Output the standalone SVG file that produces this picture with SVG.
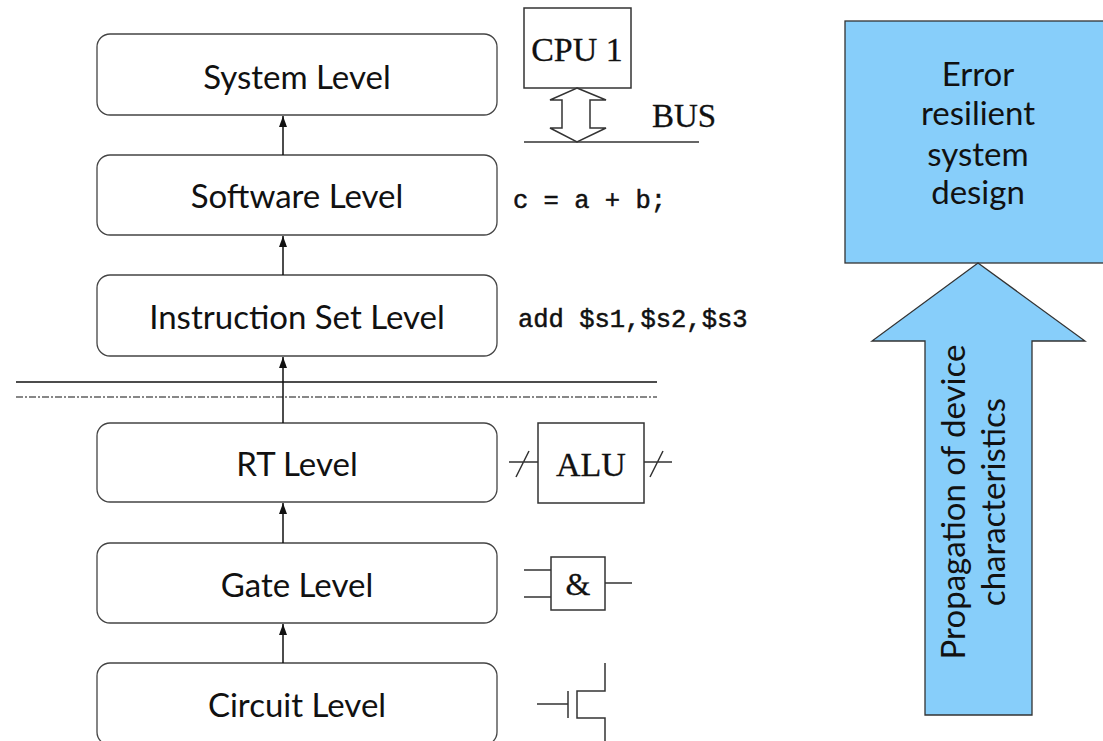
<svg xmlns="http://www.w3.org/2000/svg" width="1103" height="741" viewBox="0 0 1103 741">
<style>
.node rect{fill:#fff;stroke:#444;stroke-width:1.3}
.lbl{font-family:Lato,"Liberation Sans",sans-serif;font-size:33px;fill:#111;text-anchor:middle}
.serif{font-family:"Liberation Serif","Times New Roman",serif;fill:#111;stroke:#111;stroke-width:0.3}
.mono{font-family:"Liberation Mono","Courier New",monospace;font-size:25.5px;fill:#111;stroke:#111;stroke-width:0.5}
.conn line{stroke:#111;stroke-width:1.5;marker-end:url(#ah)}
.sym{fill:none;stroke:#333;stroke-width:1.5}
.box{fill:#fff;stroke:#333;stroke-width:1.5}
.blue{fill:#87cefa;stroke:#333;stroke-width:1.3}
</style>
<defs>
<marker id="ah" viewBox="0 0 11 8" refX="11" refY="4" markerWidth="11" markerHeight="8" orient="auto" markerUnits="userSpaceOnUse">
<path d="M0,0 L11,4 L0,8 z" fill="#111"/>
</marker>
</defs>
<rect width="1103" height="741" fill="#fff"/>

<g id="system-level" class="node"><rect x="97" y="34" width="400" height="81" rx="13"/><text class="lbl" x="297" y="89">System Level</text></g>
<g id="software-level" class="node"><rect x="97" y="155" width="400" height="80" rx="13"/><text class="lbl" x="297" y="208">Software Level</text></g>
<g id="isa-level" class="node"><rect x="97" y="275" width="400" height="81" rx="13"/><text class="lbl" x="297" y="329">Instruction Set Level</text></g>
<g id="rt-level" class="node"><rect x="97" y="423" width="400" height="79" rx="13"/><text class="lbl" x="297" y="476">RT Level</text></g>
<g id="gate-level" class="node"><rect x="97" y="543" width="400" height="80" rx="13"/><text class="lbl" x="297" y="597">Gate Level</text></g>
<g id="circuit-level" class="node"><rect x="97" y="663" width="400" height="82" rx="13"/><text class="lbl" x="297" y="717">Circuit Level</text></g>

<g id="connectors" class="conn">
<line x1="283" y1="155" x2="283" y2="116"/>
<line x1="283" y1="275" x2="283" y2="236"/>
<line x1="283" y1="423" x2="283" y2="357"/>
<line x1="283" y1="543" x2="283" y2="503"/>
<line x1="283" y1="663" x2="283" y2="624"/>
</g>

<g id="separator">
<line x1="16" y1="382" x2="657" y2="382" stroke="#111" stroke-width="1.3"/>
<line x1="16" y1="397" x2="657" y2="397" stroke="#111" stroke-width="1.2" stroke-dasharray="7 2 2 2"/>
</g>

<g id="cpu">
<rect class="box" x="524" y="8" width="107" height="80"/>
<text class="serif" x="577" y="61" font-size="34" text-anchor="middle">CPU 1</text>
<polygon class="box" points="577,88 606,100 590,100 590,128 606,128 577,142 550,128 562,128 562,100 550,100"/>
<line x1="524" y1="142" x2="699" y2="142" stroke="#333" stroke-width="1.5"/>
<text class="serif" x="652" y="127" font-size="33">BUS</text>
</g>

<g id="code">
<text class="mono" x="513" y="208">c = a + b;</text>
<text class="mono" x="518" y="327">add $s1,$s2,$s3</text>
</g>

<g id="alu">
<rect class="box" x="538" y="423" width="106" height="80"/>
<text class="serif" x="591" y="476" font-size="34" text-anchor="middle">ALU</text>
<path class="sym" d="M509,462 H538 M516,477 L529,451 M644,462 H672 M650,477 L663,451"/>
</g>

<g id="and-gate">
<rect class="box" x="551" y="557" width="54" height="53"/>
<text class="serif" x="578" y="595" font-size="32" text-anchor="middle">&amp;</text>
<path class="sym" d="M524,570 H551 M524,597 H551 M605,583 H632"/>
</g>

<g id="transistor">
<path class="sym" d="M537,704 H568 M568,691 V718 M605,663 V691 H577 V718 H605 V741"/>
</g>

<g id="error-resilient">
<rect class="blue" x="845" y="21" width="265" height="242"/>
<text class="lbl" x="978" y="86">Error</text>
<text class="lbl" x="978" y="125">resilient</text>
<text class="lbl" x="978" y="166">system</text>
<text class="lbl" x="978" y="204">design</text>
</g>

<g id="propagation">
<polygon class="blue" points="978,263 1085,341 1032,341 1032,715 925,715 925,341 872,341"/>
<text class="lbl" transform="translate(965,502) rotate(-90)">Propagation of device</text>
<text class="lbl" transform="translate(1005,502) rotate(-90)">characteristics</text>
</g>
</svg>
